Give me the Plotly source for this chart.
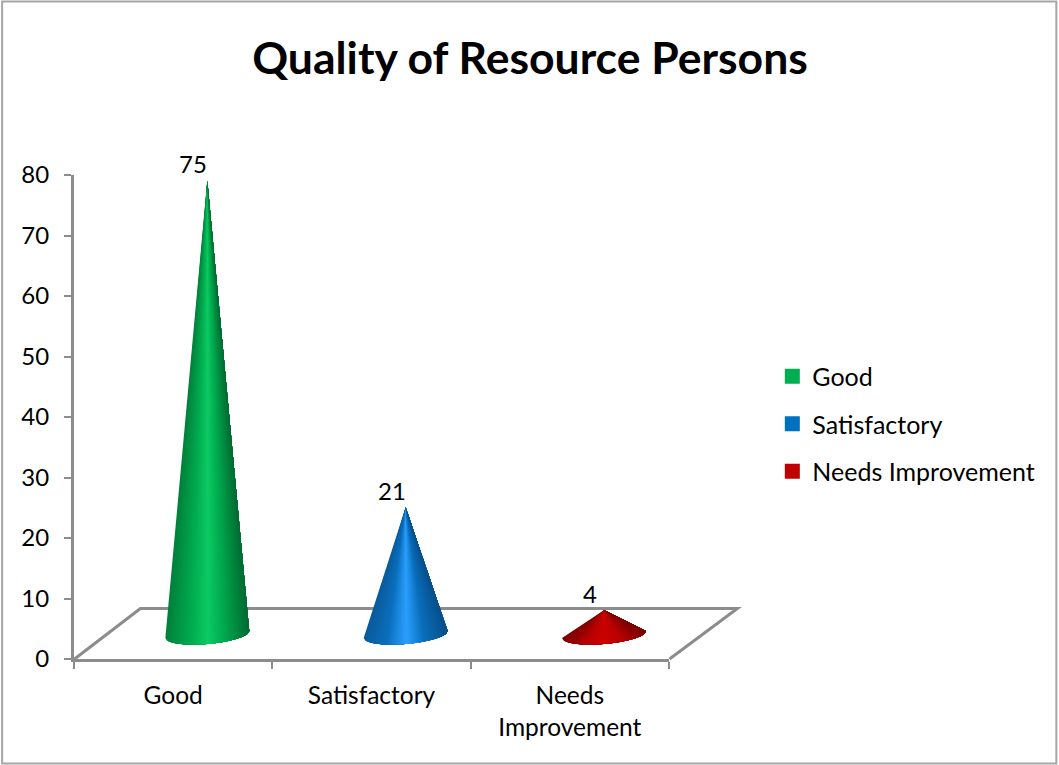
import numpy as np
import plotly.graph_objects as go

# Data
categories = ["Good", "Satisfactory", "Needs Improvement"]
axis_labels = ["Good", "Satisfactory", "Needs<br>Improvement"]
values = [75, 21, 4]
y_ticks = [0, 10, 20, 30, 40, 50, 60, 70, 80]
title = "Quality of Resource Persons"

# Styles
legend_colors = ["#00B050", "#0070C0", "#C00000"]
shade_stops = [
    ["#00803c", "#00a84e", "#0ccb63", "#00a54c", "#006b33"],
    ["#0b5a9a", "#0a70be", "#2b9fff", "#0a6fbb", "#07508b"],
    ["#7e0000", "#b80000", "#cc0000", "#b80000", "#7a0000"],
]
FONT = "Lato"
GRAY = "#8c8c8c"

W, H = 1059, 765
L, R, T, B = 73.5, 669.5, 175, 659
px_x = (R - L) / 3
px_y = (B - T) / 80

# 3D projection, in axis units
cone_dx, cone_dy = 0.172, 4.05
half_w, tilt, ell_h = 42 / px_x, 3.5 / px_y, 9.5 / px_y
N = 60


def hex2rgb(h):
    return np.array([int(h[i:i + 2], 16) for i in (1, 3, 5)], float)


def shade(stops, u):
    pos = [-1, -0.45, 0.02, 0.45, 1]
    c = [np.interp(u, pos, [hex2rgb(s)[k] for s in stops]) for k in range(3)]
    return "rgb(%d,%d,%d)" % tuple(c)


def px(xp):
    return (xp - L) / (R - L)


def py(yp):
    return (B - yp) / (B - T)


fig = go.Figure()

# Cones: each layer runs from its own slice to the right edge, so colours overlap without seams
for i, (cat, v) in enumerate(zip(categories, values)):
    cx = i + 0.5 + cone_dx
    us = np.linspace(-1, 1, N + 1)
    for a in us[:-1]:
        sub = np.linspace(a, 1, max(3, int((1 - a) * 30)))
        xs = cx + half_w * sub
        ys = cone_dy + tilt * sub - ell_h * np.sqrt(np.clip(1 - sub ** 2, 0, 1))
        col = shade(shade_stops[i], a + 1 / N)
        fig.add_trace(go.Scatter(
            x=[cx, *xs, cx], y=[cone_dy + v, *ys, cone_dy + v],
            mode="lines", fill="toself", fillcolor=col,
            line=dict(width=0),
            showlegend=False, hoverinfo="skip",
        ))

# Legend entries
for i, cat in enumerate(categories):
    fig.add_trace(go.Scatter(
        x=[None], y=[None], name=cat, mode="markers", legendgroup=cat,
        marker=dict(symbol="square", size=15, color=legend_colors[i]),
    ))

# Data labels sit just above and left of each apex
annotations = [
    dict(x=i + 0.5 + cone_dx, y=cone_dy + v, xref="x", yref="y", text=str(v),
         showarrow=False, xshift=-14, yshift=17, xanchor="center", yanchor="middle",
         font=dict(family=FONT, size=24, color="#000000"))
    for i, v in enumerate(values)
]

floor_path = "M %f %f L %f %f L %f %f L %f %f" % (
    px(74), py(659), px(140), py(608.5), px(738), py(608.5), px(670), py(659))

fig.update_layout(
    width=W, height=H,
    autosize=False,
    paper_bgcolor="white", plot_bgcolor="rgba(0,0,0,0)",
    margin=dict(l=L, r=W - R, t=T, b=H - B, pad=0),
    title=dict(text="<b>%s</b>" % title, x=530 / W, y=1 - 58 / H,
               xref="container", yref="container",
               xanchor="center", yanchor="middle",
               font=dict(family=FONT, size=44.5, color="#000000")),
    font=dict(family=FONT, color="#000000"),
    annotations=annotations,
    xaxis=dict(
        range=[0, 3], tickmode="array",
        tickvals=[0.5, 1.5, 2.5], ticktext=axis_labels,
        ticks="", ticklabelstandoff=13,
        tickfont=dict(family=FONT, size=24.5, color="#000000"),
        showgrid=False, zeroline=False,
        showline=True, linecolor=GRAY, linewidth=3,
        minor=dict(tickmode="array", tickvals=[0, 1, 2, 3], ticks="outside",
                   ticklen=7, tickwidth=2, tickcolor=GRAY, showgrid=False),
    ),
    yaxis=dict(
        range=[0, 80], tickmode="array", tickvals=y_ticks,
        ticks="outside", ticklen=7, tickwidth=2, tickcolor=GRAY,
        ticklabelstandoff=10,
        tickfont=dict(family=FONT, size=24, color="#000000"),
        showgrid=False, zeroline=False,
        showline=True, linecolor=GRAY, linewidth=3,
    ),
    legend=dict(
        x=px(773), y=py(424),
        xanchor="left", yanchor="middle",
        tracegroupgap=12, itemclick=False, itemdoubleclick=False,
        font=dict(family=FONT, size=25, color="#000000"),
        bgcolor="rgba(0,0,0,0)",
    ),
    shapes=[
        dict(type="path", path=floor_path, xref="paper", yref="paper", layer="below",
             line=dict(color=GRAY, width=3), fillcolor="rgba(0,0,0,0)"),
        dict(type="rect", xref="paper", yref="paper", layer="above",
             x0=px(1.5), x1=px(1057.5), y0=py(763.5), y1=py(1.5),
             line=dict(color="#a6a6a6", width=2), fillcolor="rgba(0,0,0,0)"),
    ],
)

fig.write_html("out.html", config=dict(displayModeBar=False),
               post_script="document.body.style.margin='0';document.body.style.overflow='hidden';")
